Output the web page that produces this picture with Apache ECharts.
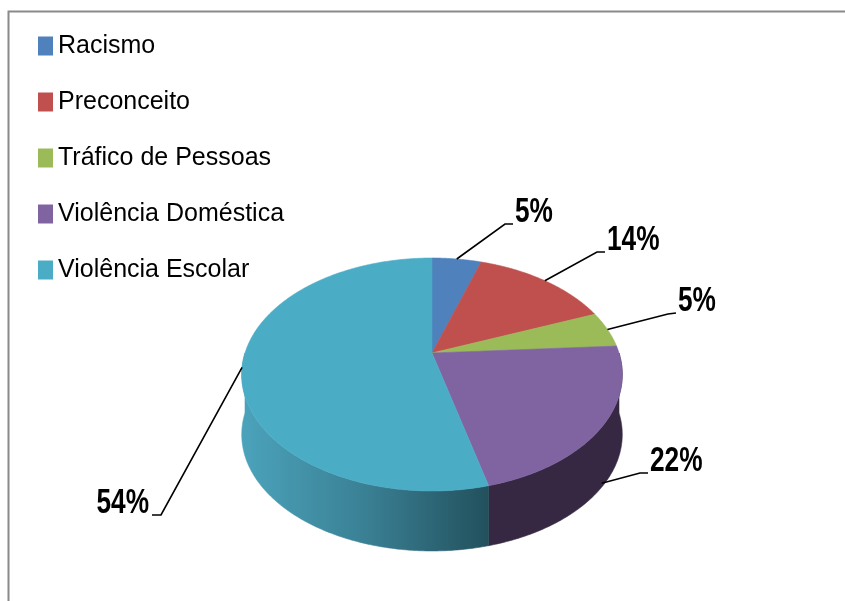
<!DOCTYPE html>
<html><head><meta charset="utf-8">
<script src="https://cdn.jsdelivr.net/npm/echarts@6/dist/echarts.min.js"></script>
<style>html,body{margin:0;padding:0;background:#fff}#c{width:845px;height:601px}</style>
</head><body><div id="c"></div>
<script>
// ---- data ----
const categories = ['Racismo', 'Preconceito', 'Tráfico de Pessoas', 'Violência Doméstica', 'Violência Escolar'];
const values = [5, 14, 5, 22, 54];
const valueLabels = ['5%', '14%', '5%', '22%', '54%'];

// ---- styles / layout ----
const colors = ['#4F81BD', '#C0504D', '#9BBB59', '#8064A2', '#4BACC6'];
const FONT = '"Liberation Sans Narrow", "Liberation Sans", sans-serif';
const P = { cx: 432, cy: 353, A: 112.5, B: 187, k: 0.1845, depth: 60 };
const labelDrop = [0, 0, 0, 56, 0];
const labelElbow = [[505, 224], [597, 252], [668, 314], [640, 473], [161, 515]];
const labelEnd = [[513, 224], [605, 252], [676, 313], [648, 473], [152, 515]];

function wallFill(i) {
  if (i === 4) return new echarts.graphic.LinearGradient(241, 0, 490, 0, [
    { offset: 0, color: '#4BA3BB' }, { offset: 0.5, color: '#3A8094' }, { offset: 1, color: '#22505C' }], true);
  if (i === 3) return '#362842';
  return '#333';
}
function proj(t, drop) {
  const Z = Math.cos(t), X = Math.sin(t), d = 1 + P.k * Z;
  return [P.cx + P.B * X / d, P.cy - P.A * Z / d + (drop || 0)];
}
function arc(a, b, drop) {
  const n = Math.max(6, Math.ceil((b - a) / 0.01));
  const pts = [];
  for (let j = 0; j <= n; j++) pts.push(proj(a + (b - a) * j / n, drop));
  return pts;
}

const total = values.reduce((s, v) => s + v, 0);
let acc = 0;
const series = categories.map((name, i) => {
  const start = acc; acc += values[i];
  return {
    type: 'custom', name: name, coordinateSystem: 'none', silent: true,
    itemStyle: { color: colors[i] },
    data: [[start, values[i]]],
    renderItem: function (params, api) {
      const s = api.value(0) / total * 2 * Math.PI;
      const e = (api.value(0) + api.value(1)) / total * 2 * Math.PI;
      const children = [];
      const top = [[P.cx, P.cy]].concat(arc(s, e, 0));
      children.push({ type: 'polygon', z2: 100, shape: { points: top },
        style: { fill: colors[i], stroke: colors[i], lineWidth: 0.6 } });
      const lo = Math.max(s, Math.PI / 2), hi = Math.min(e, 3 * Math.PI / 2);
      if (hi > lo) {
        const up = arc(lo, hi, 0), dn = arc(lo, hi, P.depth).reverse();
        const fill = wallFill(i);
        children.push({ type: 'polygon', z2: 50, shape: { points: up.concat(dn) },
          style: { fill: fill, stroke: fill, lineWidth: 0.6 } });
      }
      const mid = (s + e) / 2;
      const anc = proj(mid, labelDrop[i]);
      const el = labelElbow[i], en = labelEnd[i];
      children.push({ type: 'polyline', z2: 200, shape: { points: [anc, el, en] },
        style: { stroke: '#000', lineWidth: 1.6, fill: null } });
      const left = en[0] < P.cx;
      children.push({ type: 'text', z2: 200, x: left ? en[0] - 3 : en[0] + 2, y: en[1] + 6,
        scaleX: 0.82, scaleY: 1.08,
        style: { text: valueLabels[i], fill: '#000', fontSize: 32, fontWeight: 'bold', fontFamily: FONT,
          align: left ? 'right' : 'left', verticalAlign: 'bottom' } });
      return { type: 'group', children: children };
    }
  };
});

const chart = echarts.init(document.getElementById('c'), null, { renderer: 'canvas' });
chart.setOption({
  animation: false,
  backgroundColor: '#fff',
  graphic: [{ type: 'rect', shape: { x: 8.5, y: 11.5, width: 900, height: 700 },
    style: { fill: 'none', stroke: '#8a8a8a', lineWidth: 2 }, z: -1 }],
  legend: {
    orient: 'vertical', left: 33, top: 25, itemWidth: 15, itemHeight: 19, itemGap: 24,
    icon: 'rect', data: categories, selectedMode: false,
    textStyle: { fontSize: 25, lineHeight: 32, fontFamily: FONT, color: '#000' }
  },
  series: series
});
</script></body></html>
